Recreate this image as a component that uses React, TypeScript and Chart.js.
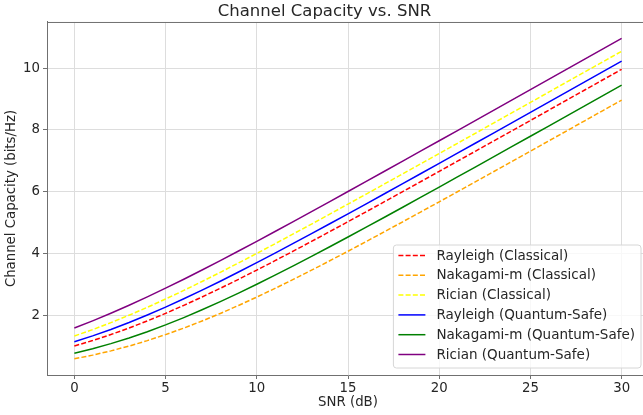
import React, { useEffect, useRef } from "react";
import { Chart, registerables } from "chart.js";

Chart.register(...registerables);

const snrDb = [0, 1, 2, 3, 4, 5, 6, 7, 8, 9, 10, 11, 12, 13, 14, 15, 16, 17, 18, 19, 20, 21, 22, 23, 24, 25, 26, 27, 28, 29, 30];

const rayleighClassical = [1.0, 1.176, 1.37, 1.583, 1.812, 2.057, 2.317, 2.588, 2.87, 3.161, 3.459, 3.765, 4.075, 4.389, 4.707, 5.028, 5.351, 5.676, 6.002, 6.33, 6.658, 6.988, 7.317, 7.647, 7.978, 8.309, 8.64, 8.972, 9.304, 9.635, 9.967];
const nakagamiClassical = [0.585, 0.704, 0.842, 0.998, 1.174, 1.368, 1.58, 1.81, 2.055, 2.314, 2.585, 2.867, 3.158, 3.456, 3.761, 4.071, 4.386, 4.704, 5.025, 5.348, 5.672, 5.999, 6.327, 6.655, 6.984, 7.314, 7.645, 7.975, 8.306, 8.637, 8.969];
const ricianClassical = [1.322, 1.53, 1.756, 1.998, 2.253, 2.522, 2.802, 3.091, 3.387, 3.691, 4.0, 4.313, 4.631, 4.951, 5.274, 5.598, 5.924, 6.251, 6.58, 6.909, 7.238, 7.569, 7.899, 8.23, 8.561, 8.893, 9.225, 9.556, 9.888, 10.22, 10.552];
const rayleighQuantum = [1.138, 1.328, 1.537, 1.763, 2.005, 2.261, 2.53, 2.81, 3.099, 3.397, 3.7, 4.01, 4.323, 4.641, 4.961, 5.284, 5.608, 5.934, 6.262, 6.59, 6.919, 7.249, 7.579, 7.909, 8.24, 8.572, 8.903, 9.235, 9.566, 9.898, 10.23];
const nakagamiQuantum = [0.766, 0.912, 1.077, 1.261, 1.464, 1.684, 1.921, 2.173, 2.437, 2.714, 3.0, 3.295, 3.596, 3.904, 4.216, 4.532, 4.851, 5.173, 5.497, 5.823, 6.15, 6.478, 6.807, 7.136, 7.466, 7.797, 8.127, 8.459, 8.79, 9.122, 9.453];
const ricianQuantum = [1.585, 1.815, 2.06, 2.319, 2.591, 2.873, 3.164, 3.463, 3.768, 4.078, 4.392, 4.71, 5.031, 5.354, 5.679, 6.006, 6.333, 6.662, 6.991, 7.321, 7.651, 7.982, 8.313, 8.644, 8.975, 9.307, 9.639, 9.971, 10.303, 10.635, 10.966];

const xTicks = [0, 5, 10, 15, 20, 25, 30];
const yTicks = [2, 4, 6, 8, 10];

const FONT = '"DejaVu Sans", sans-serif';
const TEXT = "#262626";

const toPoints = (ys: number[]) => snrDb.map((x, i) => ({ x, y: ys[i] }));

const legendPlugin = {
  id: "mplLegend",
  afterDraw(chart: any) {
    const ctx = chart.ctx as CanvasRenderingContext2D;
    const { right, bottom } = chart.chartArea;
    const fs = 13.5;
    ctx.save();
    ctx.font = `${fs}px ${FONT}`;
    const ds = chart.data.datasets;
    const textW = Math.max(...ds.map((d: any) => ctx.measureText(d.label).width));
    const pad = 5;
    const handle = 27;
    const gap = 11;
    const rowH = 19.8;
    const boxW = pad + handle + gap + textW + pad + 1;
    const boxH = 123;
    const bx = right - 8 - boxW;
    const by = bottom - 7 - boxH;
    const r = 3;
    ctx.beginPath();
    ctx.moveTo(bx + r, by);
    ctx.lineTo(bx + boxW - r, by);
    ctx.quadraticCurveTo(bx + boxW, by, bx + boxW, by + r);
    ctx.lineTo(bx + boxW, by + boxH - r);
    ctx.quadraticCurveTo(bx + boxW, by + boxH, bx + boxW - r, by + boxH);
    ctx.lineTo(bx + r, by + boxH);
    ctx.quadraticCurveTo(bx, by + boxH, bx, by + boxH - r);
    ctx.lineTo(bx, by + r);
    ctx.quadraticCurveTo(bx, by, bx + r, by);
    ctx.closePath();
    ctx.fillStyle = "rgba(255,255,255,0.8)";
    ctx.fill();
    ctx.strokeStyle = "#d6d6d6";
    ctx.lineWidth = 1;
    ctx.stroke();
    ds.forEach((d: any, i: number) => {
      const cy = by + 10.5 + i * rowH;
      ctx.beginPath();
      ctx.setLineDash(d.borderDash || []);
      ctx.strokeStyle = d.borderColor;
      ctx.lineWidth = d.borderWidth;
      ctx.moveTo(bx + pad, cy);
      ctx.lineTo(bx + pad + handle, cy);
      ctx.stroke();
      ctx.setLineDash([]);
      ctx.fillStyle = TEXT;
      ctx.textAlign = "left";
      ctx.textBaseline = "middle";
      ctx.fillText(d.label, bx + pad + handle + gap, cy + 0.5);
    });
    ctx.restore();
  },
};

const frameTopPlugin = {
  id: "frameTop",
  afterDraw(chart: any) {
    const ctx = chart.ctx as CanvasRenderingContext2D;
    const { left, right, top } = chart.chartArea;
    ctx.save();
    ctx.strokeStyle = "#707070";
    ctx.lineWidth = 1;
    ctx.beginPath();
    ctx.moveTo(left, top + 0.5);
    ctx.lineTo(right, top + 0.5);
    ctx.moveTo(right - 0.5, top);
    ctx.lineTo(right - 0.5, chart.chartArea.bottom);
    ctx.stroke();
    ctx.restore();
  },
};

export default function App() {
  const ref = useRef<HTMLCanvasElement | null>(null);

  useEffect(() => {
    document.body.style.overflow = "hidden";
    document.documentElement.style.overflow = "hidden";
    if (!ref.current) return;
    const dashed = [5, 2.2];
    const lw = 1.5;
    const chart = new Chart(ref.current, {
      type: "line",
      data: {
        datasets: [
          { label: "Rayleigh (Classical)", data: toPoints(rayleighClassical), borderColor: "#ff0000", borderDash: dashed, borderWidth: lw },
          { label: "Nakagami-m (Classical)", data: toPoints(nakagamiClassical), borderColor: "#ffa500", borderDash: dashed, borderWidth: lw },
          { label: "Rician (Classical)", data: toPoints(ricianClassical), borderColor: "#ffff00", borderDash: dashed, borderWidth: lw },
          { label: "Rayleigh (Quantum-Safe)", data: toPoints(rayleighQuantum), borderColor: "#0000ff", borderWidth: lw },
          { label: "Nakagami-m (Quantum-Safe)", data: toPoints(nakagamiQuantum), borderColor: "#008000", borderWidth: lw },
          { label: "Rician (Quantum-Safe)", data: toPoints(ricianQuantum), borderColor: "#800080", borderWidth: lw },
        ].map((d) => ({ ...d, pointRadius: 0, fill: false, tension: 0 })),
      },
      options: {
        animation: false,
        responsive: false,
        devicePixelRatio: 1,
        layout: { padding: { left: 0, right: 11, top: 0, bottom: 0 } },
        plugins: {
          legend: { display: false },
          tooltip: { enabled: false },
          title: {
            display: true,
            text: "Channel Capacity vs. SNR",
            color: TEXT,
            font: { family: FONT, size: 16.5, weight: "normal", lineHeight: 1.15 },
            padding: { top: 2, bottom: 1 },
          },
        },
        scales: {
          x: {
            type: "linear",
            min: -1.5,
            max: 31.5,
            afterBuildTicks: (axis: any) => {
              axis.ticks = xTicks.map((v) => ({ value: v }));
            },
            afterFit: (axis: any) => {
              axis.height = 40;
            },
            ticks: { color: TEXT, font: { family: FONT, size: 13.3 }, padding: 2, maxRotation: 0, autoSkip: false },
            grid: { color: "#dddddd", tickColor: "#707070", tickLength: 4, lineWidth: 1 },
            border: { display: true, color: "#707070", width: 1 },
            title: {
              display: true,
              text: "SNR (dB)",
              color: TEXT,
              font: { family: FONT, size: 13.3, lineHeight: 1.2 },
              padding: { top: 0, bottom: 4 },
            },
          },
          y: {
            type: "linear",
            min: 0.06,
            max: 11.5,
            afterBuildTicks: (axis: any) => {
              axis.ticks = yTicks.map((v) => ({ value: v }));
            },
            afterFit: (axis: any) => {
              axis.width = 47;
            },
            ticks: { color: TEXT, font: { family: FONT, size: 13.3 }, padding: 3, autoSkip: false },
            grid: { color: "#dddddd", tickColor: "#707070", tickLength: 4, lineWidth: 1 },
            border: { display: true, color: "#707070", width: 1 },
            title: {
              display: true,
              text: "Channel Capacity (bits/Hz)",
              color: TEXT,
              font: { family: FONT, size: 13.3, lineHeight: 1.2 },
              padding: { top: 4, bottom: 0 },
            },
          },
        },
      },
      plugins: [frameTopPlugin, legendPlugin],
    } as any);
    return () => chart.destroy();
  }, []);

  return (
    <div style={{ position: "absolute", left: 0, top: 0, width: 660, height: 415, overflow: "hidden" }}>
      <canvas ref={ref} width={660} height={415} style={{ display: "block" }} />
    </div>
  );
}
